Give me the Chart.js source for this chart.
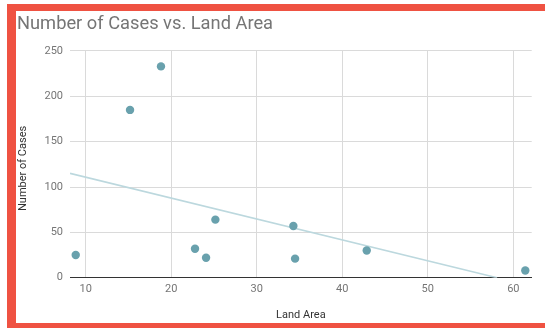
<!DOCTYPE html>
<html>
<head>
<meta charset="utf-8">
<script src="https://cdn.jsdelivr.net/npm/chart.js@4"></script>
<style>
  html, body { margin: 0; padding: 0; background: #fff; }
  #wrap { position: relative; width: 545px; height: 328px; overflow: hidden; }
  canvas { position: absolute; left: 0; top: 0; }
  .frame { position: absolute; background: #ef5242; }
</style>
</head>
<body>
<div id="wrap">
  <canvas id="chart" width="545" height="328"></canvas>
  <div class="frame" style="left:7px; top:4px; width:9px; height:324px;"></div>
  <div class="frame" style="left:7px; top:4px; width:538px; height:7px;"></div>
  <div class="frame" style="left:7px; top:323px; width:538px; height:5px;"></div>
</div>
<script>
// Land area of each region and its number of cases
const landArea = [8.83, 15.18, 18.8, 22.78, 24.07, 25.16, 34.28, 34.48, 42.86, 61.4];
const cases    = [25, 185, 233, 32, 22, 64, 57, 21, 30, 8];

// Linear trendline end points
const trendX = [8.16, 58.1];
const trendY = [115, 0];

// Axis ticks
const xTicks = [10, 20, 30, 40, 50, 60];
const yTicks = [0, 50, 100, 150, 200, 250];

const FONT = 'Roboto, "Noto Sans", sans-serif';

const points = landArea.map((x, i) => ({ x, y: cases[i] }));
const trend = trendX.map((x, i) => ({ x, y: trendY[i] }));

new Chart(document.getElementById('chart'), {
  type: 'scatter',
  data: {
    datasets: [
      {
        label: 'Number of Cases',
        data: points,
        backgroundColor: '#69a1ad',
        borderColor: '#69a1ad',
        pointRadius: 4.2,
        pointHoverRadius: 4.2,
        borderWidth: 0,
        order: 0
      },
      {
        label: 'Trendline',
        type: 'line',
        data: trend,
        borderColor: '#bcd8de',
        borderWidth: 1.6,
        pointRadius: 0,
        fill: false,
        order: 1
      }
    ]
  },
  options: {
    responsive: false,
    animation: false,
    layout: { padding: { left: 17, right: 13.3, top: 0, bottom: 0 } },
    plugins: {
      legend: { display: false },
      tooltip: { enabled: false },
      title: {
        display: true,
        text: 'Number of Cases vs. Land Area',
        align: 'start',
        color: '#757575',
        font: { family: FONT, size: 18.3, weight: 'normal' },
        padding: { top: 13.9, bottom: 15.1 }
      }
    },
    scales: {
      x: {
        type: 'linear',
        min: 8.16,
        max: 62.15,
        afterBuildTicks: (s) => { s.ticks = xTicks.map(v => ({ value: v })); },
        afterFit: (s) => { s.height = 50.3; },
        grid: { color: '#dadada', lineWidth: 1, drawTicks: false },
        border: { display: true, color: '#333333', width: 1 },
        ticks: {
          color: '#757575',
          padding: 4.5,
          font: { family: FONT, size: 11 }
        },
        title: {
          display: true,
          text: 'Land Area',
          color: '#333333',
          font: { family: FONT, size: 11 },
          padding: { top: 0, bottom: 6.4 }
        }
      },
      y: {
        type: 'linear',
        min: 0,
        max: 250,
        afterBuildTicks: (s) => { s.ticks = yTicks.map(v => ({ value: v })); },
        afterFit: (s) => { s.width = 53; },
        grid: { color: '#dadada', lineWidth: 1, drawTicks: false },
        border: { display: false },
        ticks: {
          color: '#757575',
          padding: 7,
          font: { family: FONT, size: 11 }
        },
        title: {
          display: true,
          text: 'Number of Cases   ',
          color: '#333333',
          font: { family: FONT, size: 11 },
          padding: { top: 0, bottom: 0 }
        }
      }
    }
  }
});
</script>
</body>
</html>
